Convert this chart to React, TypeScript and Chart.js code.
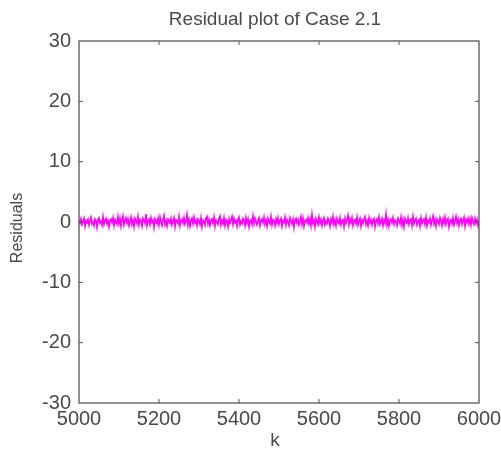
import React, { useEffect, useRef } from "react";
import { Chart, registerables } from "chart.js";

Chart.register(...registerables);

const TITLE = "Residual plot of Case 2.1";
const X_LABEL = "k";
const Y_LABEL = "Residuals";
const X_START = 5000;
const X_STEP = 2.5;
const X_TICKS = [5000, 5200, 5400, 5600, 5800, 6000];
const Y_TICKS = [-30, -20, -10, 0, 10, 20, 30];

const residuals = [
  0.3, -0.2, 0.5, -0.4, 0.1, 0.6, -0.7, 0.2, -0.1, 0.4,
  -0.5, 0.3, 0.8, -0.3, 0.0, -0.6, 0.5, 0.2, -0.9, 0.4,
  0.7, -0.2, 0.1, -0.5, 0.9, -0.4, 0.3, 0.6, -0.3, 0.2,
  -0.8, 0.2, 0.5, -0.1, 0.7, -0.6, 0.4, 0.0, -0.4, 0.9,
  -0.3, 0.6, -0.7, 0.3, 1.0, -0.5, 0.2, 0.7, -0.2, 0.5,
  -0.6, 0.1, 0.8, -0.4, 0.3, -0.8, 0.6, 0.2, -0.3, 0.9,
  -0.5, 0.4, 0.1, -0.7, 0.6, 0.3, -0.2, 1.3, -0.6, 0.2,
  0.5, -0.4, 0.7, -0.1, 0.3, -0.9, 0.5, 0.1, -0.3, 0.6,
  -0.5, 0.8, 0.0, -0.6, 0.4, 1.1, -0.4, 0.2, -0.7, 0.5,
  0.3, -0.2, 0.6, -0.5, 0.1, 0.7, -0.8, 0.4, 0.2, -0.3,
  0.9, -0.6, 0.3, 0.5, -0.2, 0.7, -0.4, 0.1, 1.2, -0.5,
  0.4, -0.7, 0.2, 0.6, -0.3, 0.8, -0.1, 0.3, -0.6, 0.5,
  0.2, -0.4, 0.7, -0.8, 0.3, 0.1, -0.5, 0.6, 0.9, -0.3,
  0.4, -0.6, 0.2, 0.5, -0.2, 0.8, -0.7, 0.3, 0.0, -0.4,
  0.6, 1.0, -0.5, 0.2, -0.3, 0.7, -0.6, 0.4, 0.1, -0.8,
  0.5, -0.2, 0.3, 0.9, -0.4, 0.6, -0.1, 0.2, -0.7, 0.4,
  0.8, -0.5, 0.1, -0.3, 0.6, 0.3, -0.6, 0.7, -0.2, 0.5,
  -0.8, 0.2, 0.4, -0.4, 1.0, -0.3, 0.6, 0.0, -0.5, 0.3,
  0.7, -0.6, 0.2, 0.5, -0.1, 0.8, -0.4, 0.3, -0.7, 0.6,
  0.1, -0.3, 0.9, -0.5, 0.4, 0.2, -0.6, 0.5, -0.2, 0.7,
  -0.4, 0.3, 0.6, -0.7, 0.2, -0.1, 0.8, -0.5, 0.4, 0.0,
  -0.6, 0.7, 0.2, -0.3, 0.5, -0.9, 0.3, 0.6, -0.2, 0.4,
  -0.5, 0.1, 0.9, -0.4, 0.6, -0.7, 0.2, 0.4, -0.1, 0.7,
  -0.3, 0.5, -0.6, 1.2, -0.2, 0.3, -0.8, 0.6, 0.1, -0.4,
  0.8, -0.2, 0.4, -0.6, 0.3, 0.7, -0.5, 0.1, -0.3, 0.6,
  0.2, -0.7, 0.5, -0.1, 0.9, -0.4, 0.3, -0.6, 0.6, 0.0,
  -0.3, 0.7, -0.5, 0.2, 0.4, -0.8, 0.6, -0.2, 0.3, 1.1,
  -0.4, 0.5, -0.1, 0.7, -0.6, 0.2, 0.4, -0.3, 0.8, -0.5,
  0.1, 0.6, -0.7, 0.3, -0.2, 0.5, 0.9, -0.4, 0.2, -0.6,
  0.7, -0.1, 0.4, -0.5, 0.3, 0.6, -0.8, 0.2, 0.5, -0.3,
  0.8, -0.4, 0.1, 0.6, -0.6, 0.3, -0.2, 1.3, -0.5, 0.4,
  -0.7, 0.2, 0.5, -0.1, 0.7, -0.4, 0.3, 0.0, -0.6, 0.6,
  0.2, -0.3, 0.8, -0.5, 0.4, -0.8, 0.6, 0.1, -0.2, 0.7,
  -0.4, 0.3, 0.5, -0.6, 0.9, -0.3, 0.2, 0.6, -0.5, 0.1,
  0.4, -0.7, 0.7, -0.2, 0.3, 0.5, -0.4, 0.8, -0.6, 0.2,
  -0.1, 0.6, -0.5, 0.3, 1.0, -0.3, 0.4, -0.7, 0.5, 0.1,
  -0.4, 0.7, 0.2, -0.6, 0.5, -0.2, 0.8, -0.4, 0.3, 0.6,
  -0.8, 0.2, 0.4, -0.3, 0.7, -0.5, 0.1, 0.9, -0.2, 0.5,
  -0.6, 0.3, 0.6, -0.4, 0.2, 0.8, -0.7, 0.4, -0.1, 0.6,
  -0.3, 0.5, -0.5, 0.7, 0.1, -0.4, 0.6, -0.2, 0.4, -0.6,
  0.3,
];

const frameColor = "#555555";
const textColor = "#4a4a4a";

const framePlugin = {
  id: "matlabFrame",
  afterDatasetsDraw(chart: any) {
    const { ctx, chartArea: a, scales } = chart;
    ctx.save();
    ctx.strokeStyle = frameColor;
    ctx.lineWidth = 1.3;
    ctx.strokeRect(a.left, a.top, a.right - a.left, a.bottom - a.top);
    ctx.lineWidth = 1;
    const tl = 4;
    X_TICKS.slice(1, -1).forEach((v) => {
      const x = scales.x.getPixelForValue(v);
      ctx.beginPath();
      ctx.moveTo(x, a.bottom);
      ctx.lineTo(x, a.bottom - tl);
      ctx.moveTo(x, a.top);
      ctx.lineTo(x, a.top + tl);
      ctx.stroke();
    });
    Y_TICKS.slice(1, -1).forEach((v) => {
      const y = scales.y.getPixelForValue(v);
      ctx.beginPath();
      ctx.moveTo(a.left, y);
      ctx.lineTo(a.left + tl, y);
      ctx.moveTo(a.right, y);
      ctx.lineTo(a.right - tl, y);
      ctx.stroke();
    });
    ctx.fillStyle = textColor;
    ctx.textAlign = "center";
    ctx.textBaseline = "middle";
    ctx.font = "19px 'Liberation Sans', Arial, sans-serif";
    ctx.fillText(TITLE, 275, 20);
    ctx.font = "19px 'Liberation Sans', Arial, sans-serif";
    ctx.fillText(X_LABEL, 275, 441);
    ctx.translate(18, 228);
    ctx.rotate(-Math.PI / 2);
    ctx.font = "16px 'Liberation Sans', Arial, sans-serif";
    ctx.fillText(Y_LABEL, 0, 0);
    ctx.restore();
  },
};

export default function App() {
  const ref = useRef<HTMLCanvasElement>(null);
  useEffect(() => {
    if (!ref.current) return;
    const data = residuals.map((v, i) => ({ x: X_START + i * X_STEP, y: v }));
    const chart = new Chart(ref.current, {
      type: "line",
      data: {
        datasets: [
          {
            data,
            borderColor: "#ff00ff",
            borderWidth: 1.6,
            pointRadius: 0,
            tension: 0,
            fill: false,
          },
        ],
      },
      options: {
        animation: false,
        responsive: false,
        events: [],
        layout: { padding: { top: 41, right: 22, left: 0, bottom: 0 } },
        plugins: { legend: { display: false }, tooltip: { enabled: false } },
        scales: {
          x: {
            type: "linear",
            min: 5000,
            max: 6000,
            afterFit: (s: any) => {
              s.height = 53;
              s.paddingLeft = 0;
              s.paddingRight = 0;
            },
            afterBuildTicks: (s: any) => {
              s.ticks = X_TICKS.map((v) => ({ value: v }));
            },
            grid: { display: false, drawTicks: false },
            border: { display: false },
            ticks: {
              padding: 4,
              maxRotation: 0,
              autoSkip: false,
              color: textColor,
              font: { family: "'Liberation Sans', Arial, sans-serif", size: 20 },
              callback: (v: any) => String(v),
            },
          },
          y: {
            type: "linear",
            min: -30,
            max: 30,
            afterFit: (s: any) => {
              s.width = 79;
              s.paddingTop = 0;
              s.paddingBottom = 0;
            },
            afterBuildTicks: (s: any) => {
              s.ticks = Y_TICKS.map((v) => ({ value: v }));
            },
            grid: { display: false, drawTicks: false },
            border: { display: false },
            ticks: {
              padding: 8,
              autoSkip: false,
              color: textColor,
              font: { family: "'Liberation Sans', Arial, sans-serif", size: 20 },
              callback: (v: any) => String(v),
            },
          },
        },
      },
      plugins: [framePlugin],
    });
    return () => chart.destroy();
  }, []);
  return (
    <div style={{ position: "fixed", left: 0, top: 0, width: 501, height: 456, background: "#fff" }}>
      <canvas ref={ref} width={501} height={456} style={{ display: "block" }} />
    </div>
  );
}
